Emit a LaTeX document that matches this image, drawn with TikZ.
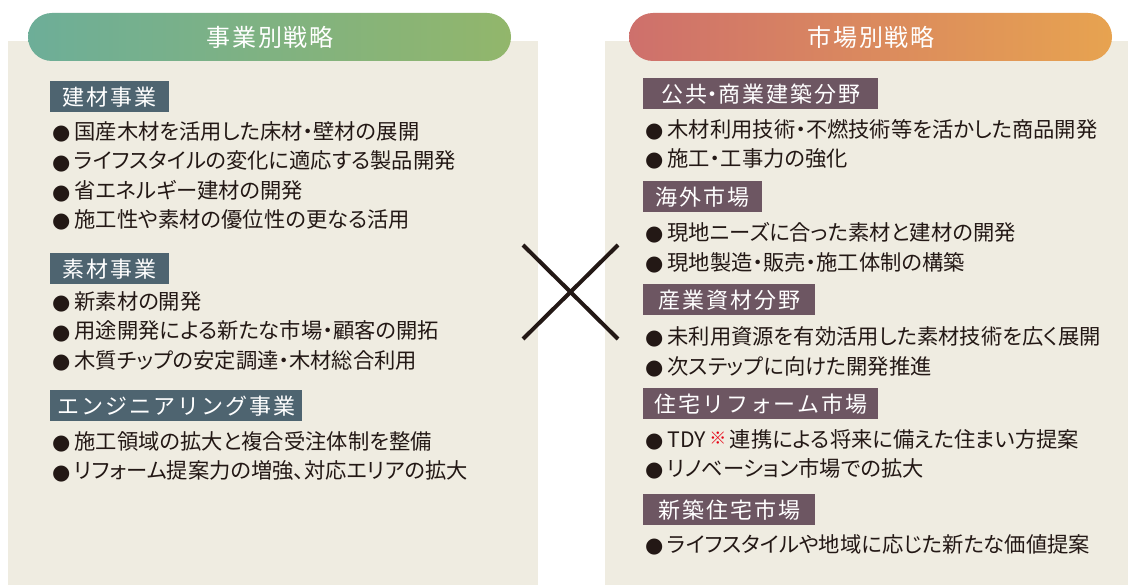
\documentclass[tikz,border=0pt]{standalone}
\usepackage{fontspec}
\setmainfont{Noto Sans CJK JP}
\newfontfamily\jp[RawFeature=+palt]{Noto Sans CJK JP}
\newfontfamily\jph[RawFeature=+halt]{Noto Sans CJK JP}
\newfontfamily\hdr[LetterSpace=8]{Noto Sans CJK JP}
\newfontfamily\lbl[LetterSpace=9]{Noto Sans CJK JP}
\newfontfamily\dv{DejaVu Sans}
\definecolor{panel}{HTML}{EFECE1}
\definecolor{lblL}{HTML}{4E6470}
\definecolor{lblR}{HTML}{6D5662}
\definecolor{ink}{HTML}{231815}
\definecolor{gLa}{HTML}{6DAE98}
\definecolor{gLb}{HTML}{92B66B}
\definecolor{gRa}{HTML}{CE706C}
\definecolor{gRb}{HTML}{E7A350}
\definecolor{kome}{HTML}{E60012}
\newcommand{\bul}{{\dv\fontsize{21}{21}\selectfont\raisebox{-0.5pt}{●}}\hspace{4pt}}
\newcommand{\hdot}{{\jph ・}}
\newcommand{\lhdot}{{\addfontfeature{RawFeature=+halt}・}}
\newcommand{\hten}{{\jph 、}}
\tikzset{
  lblbox/.style={fill=#1, text=white, font=\lbl\fontsize{22}{22}\selectfont, inner sep=0pt, minimum height=31pt, anchor=north west},
  item/.style={anchor=west, text=ink, font=\jp\fontsize{21.3}{22}\selectfont, inner sep=0pt},
  hdrtext/.style={text=white, font=\hdr\fontsize{24}{24}\selectfont, inner sep=0pt},
  cross/.style={draw=ink, line width=4pt}
}
\begin{document}
\begin{tikzpicture}[x=1pt,y=-1pt]
\useasboundingbox (0,0) rectangle (1128,585);
\fill[white] (0,0) rectangle (1128,585);
% panels
\fill[panel] (8,41) rectangle (538,585);
\fill[panel] (605,41) rectangle (1128,585);
% pills
\shade[left color=gLa, right color=gLb, rounded corners=24pt] (28,13) rectangle (511,61);
\shade[left color=gRa, right color=gRb, rounded corners=24pt] (629,13) rectangle (1112,61);
\node[hdrtext] (hL) at (270,37) {事業別戦略};
\node[hdrtext] (hR) at (871,37) {市場別戦略};
% left column
\node[lblbox=lblL, minimum width=119pt] (l1) at (50,81) {建材事業};
\node[item] (l1a) at (52,132) {\bul 国産木材を活用した床材\hdot 壁材の展開};
\node[item] (l1b) at (52,161.5) {\bul ライフスタイルの変化に適応する製品開発};
\node[item] (l1c) at (52,191) {\bul 省エネルギー建材の開発};
\node[item] (l1d) at (52,220) {\bul 施工性や素材の優位性の更なる活用};
\node[lblbox=lblL, minimum width=119pt] (l2) at (50,253) {素材事業};
\node[item] (l2a) at (52,302) {\bul 新素材の開発};
\node[item] (l2b) at (52,331.5) {\bul 用途開発による新たな市場\hdot 顧客の開拓};
\node[item] (l2c) at (52,361) {\bul 木質チップの安定調達\hdot 木材総合利用};
\node[lblbox=lblL, minimum width=252pt] (l3) at (50,390) {エンジニアリング事業};
\node[item] (l3a) at (52,442) {\bul 施工領域の拡大と複合受注体制を整備};
\node[item] (l3b) at (52,471.5) {\bul リフォーム提案力の増強\hten 対応エリアの拡大};
% right column
\node[lblbox=lblR, minimum width=235pt] (r1) at (643,78) {公共\lhdot 商業建築分野};
\node[item] (r1a) at (645,130) {\bul 木材利用技術\hdot 不燃技術等を活かした商品開発};
\node[item] (r1b) at (645,159) {\bul 施工\hdot 工事力の強化};
\node[lblbox=lblR, minimum width=119pt] (r2) at (643,181) {海外市場};
\node[item] (r2a) at (645,233) {\bul 現地ニーズに合った素材と建材の開発};
\node[item] (r2b) at (645,263) {\bul 現地製造\hdot 販売\hdot 施工体制の構築};
\node[lblbox=lblR, minimum width=172pt] (r3) at (643,284) {産業資材分野};
\node[item] (r3a) at (645,337) {\bul 未利用資源を有効活用した素材技術を広く展開};
\node[item] (r3b) at (645,367) {\bul 次ステップに向けた開発推進};
\node[lblbox=lblR, minimum width=235pt] (r4) at (643,388) {住宅リフォーム市場};
\node[item] (r4a) at (645,440) {\bul TDY\,{\color{kome}\raisebox{3pt}{\fontsize{17}{17}\selectfont ※}}\,連携による将来に備えた住まい方提案};
\node[item] (r4b) at (645,469) {\bul リノベーション市場での拡大};
\node[lblbox=lblR, minimum width=172pt] (r5) at (643,494) {新築住宅市場};
\node[item] (r5a) at (645,545) {\bul ライフスタイルや地域に応じた新たな価値提案};
% cross
\coordinate (xa) at (523,245);
\coordinate (xb) at (618,339);
\coordinate (xc) at (618,245);
\coordinate (xd) at (523,339);
\draw[cross] (xa) -- (xb);
\draw[cross] (xc) -- (xd);
\end{tikzpicture}
\end{document}
